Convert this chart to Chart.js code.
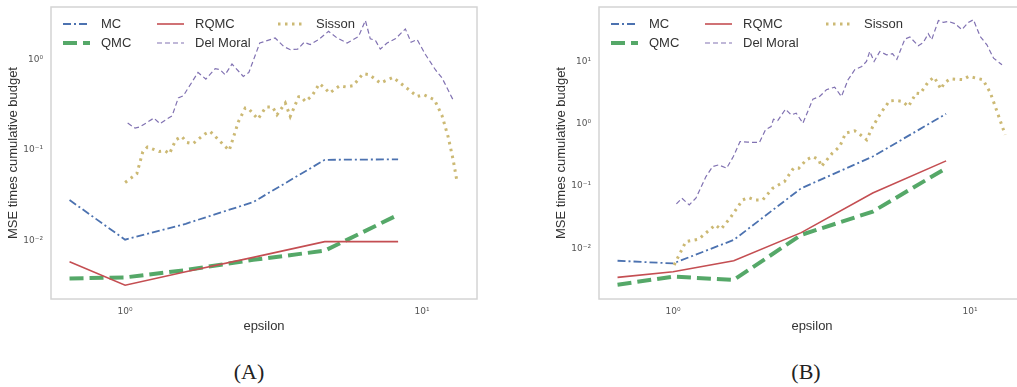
<!DOCTYPE html>
<html>
<head>
<meta charset="utf-8">
<script src="https://cdn.jsdelivr.net/npm/chart.js@4.4.0/dist/chart.umd.min.js"></script>
<style>
  body { margin: 0; background: #fff; width: 1017px; height: 387px; overflow: hidden; position: relative; }
  canvas { position: absolute; top: 0; }
  #chartA { left: 0; }
  #chartB { left: 520px; }
  .caption {
    position: absolute; top: 359px;
    font-family: "Liberation Serif", "DejaVu Serif", serif;
    font-size: 22px; color: #222;
    transform: translateX(-50%);
  }
</style>
</head>
<body>
<canvas id="chartA" width="490" height="340"></canvas>
<canvas id="chartB" width="520" height="340"></canvas>
<div class="caption" style="left:249px">(A)</div>
<div class="caption" style="left:806px">(B)</div>
<script>
// epsilon levels of the MC / QMC / RQMC runs
var epsGrid = [0.65, 1.0, 1.6, 2.7, 4.7, 8.3];

// panel (A)
var mcA = [0.028, 0.0102, 0.0153, 0.0266, 0.078, 0.079];
var qmcA = [0.0038, 0.0039, 0.0047, 0.0061, 0.0077, 0.0192];
var rqmcA = [0.0058, 0.0032, 0.0045, 0.0065, 0.0097, 0.0097];
var delMoralEpsA = [1.02, 1.08, 1.12, 1.25, 1.31, 1.44, 1.51, 1.57, 1.76, 1.87, 2.01, 2.09, 2.17, 2.29, 2.50, 2.61, 2.84, 2.96, 3.20, 3.42, 3.60,
  3.81, 4.01, 4.20, 4.48, 4.84, 5.17, 5.59, 6.11, 6.44, 6.69, 6.96, 7.23, 7.62, 8.12, 8.78, 9.18, 9.62, 10.26, 11.08, 11.67, 12.79];
var delMoralA = [0.199, 0.175, 0.180, 0.226, 0.196, 0.240, 0.377, 0.399, 0.723, 0.611, 0.795, 0.775, 0.682, 0.896, 0.653, 0.723, 1.53, 1.60, 1.74, 1.40, 1.29,
  1.31, 1.56, 1.47, 1.67, 2.06, 1.74, 1.53, 1.81, 2.72, 1.70, 1.64, 1.31, 1.53, 1.70, 2.19, 1.56, 1.67, 1.14, 0.775, 0.627, 0.345];
var sissonEpsA = [1.0, 1.095, 1.147, 1.189, 1.302, 1.364, 1.41, 1.482, 1.552, 1.614, 1.691, 1.85, 1.933, 2.09, 2.241, 2.408, 2.538, 2.604, 2.8, 2.979, 3.137, 3.245, 3.461,
  3.597, 3.839, 3.91, 4.043, 4.259, 4.506, 4.66, 4.882, 5.276, 5.556, 5.853, 6.324, 6.64, 7.236, 7.98, 8.786, 9.62, 10.13, 11.0, 11.67, 12.24, 12.72, 13.12];
var sissonA = [0.0438, 0.0547, 0.0958, 0.108, 0.0965, 0.0982, 0.091, 0.130, 0.1415, 0.1214, 0.1174, 0.150, 0.161, 0.1245, 0.099, 0.207, 0.292, 0.287, 0.2205, 0.299, 0.299, 0.246, 0.332,
  0.2355, 0.389, 0.392, 0.345, 0.399, 0.542, 0.499, 0.428, 0.515, 0.499, 0.515, 0.700, 0.682, 0.552, 0.637, 0.499, 0.392, 0.410, 0.3605, 0.240, 0.139, 0.078, 0.0438];

// panel (B)
var mcB = [0.0063, 0.0057, 0.0136, 0.092, 0.297, 1.44];
var qmcB = [0.0026, 0.0035, 0.0031, 0.0164, 0.0388, 0.193];
var rqmcB = [0.0034, 0.0042, 0.0063, 0.0178, 0.077, 0.253];
var delMoralEpsB = [1.026, 1.07, 1.133, 1.193, 1.29, 1.358, 1.422, 1.514, 1.595, 1.68, 1.782, 1.952, 2.046, 2.138, 2.177, 2.251, 2.39, 2.498, 2.597, 2.735, 2.955, 3.112, 3.281, 3.499, 3.687, 3.881,
  4.088, 4.316, 4.477, 4.592, 4.75, 4.966, 5.232, 5.482, 5.667, 6.03, 6.27, 6.69, 6.954, 7.23, 7.42, 7.82, 8.13, 8.45, 8.9, 9.38, 9.86, 10.26, 10.81, 11.39, 11.99, 12.8];
var delMoralB = [0.0515, 0.0637, 0.0497, 0.0637, 0.1416, 0.205, 0.218, 0.193, 0.297, 0.518, 0.506, 0.499, 0.798, 0.902, 1.183, 1.124, 1.714, 1.387, 1.479, 1.021, 2.481, 2.735, 3.508, 3.873, 2.735, 5.08,
  7.36, 8.32, 10.0, 14.5, 10.0, 14.5, 12.8, 13.3, 10.8, 22.9, 24.7, 17.9, 20.2, 27.9, 22.3, 45.6, 42.4, 44.0, 40.4, 32.4, 42.4, 46.8, 25.2, 18.5, 11.3, 8.85];
var sissonEpsB = [1.008, 1.104, 1.218, 1.387, 1.449, 1.554, 1.714, 1.796, 1.878, 2.003, 2.165, 2.371, 2.543, 2.651, 2.808, 2.955, 3.097, 3.155, 3.436, 3.638, 3.811, 4.088,
  4.27, 4.484, 4.70, 5.00, 5.35, 5.634, 5.933, 6.198, 6.58, 6.788, 7.242, 7.568, 7.974, 8.18, 8.57, 9.46, 9.885, 11.04, 11.68, 12.37, 13.12];
var sissonB = [0.00539, 0.01277, 0.01396, 0.0237, 0.0202, 0.0303, 0.0598, 0.0652, 0.0598, 0.0598, 0.0923, 0.1178, 0.1932, 0.1932, 0.263, 0.297, 0.263, 0.205, 0.337, 0.4305, 0.706, 0.769,
  0.664, 0.551, 0.902, 1.479, 2.333, 2.36, 2.275, 1.892, 3.10, 3.03, 4.77, 5.61, 3.60, 4.50, 5.27, 5.10, 5.76, 5.10, 3.19, 1.486, 0.664];

// tick positions
var xTicks = [1, 10];
var yTicksA = [0.01, 0.1, 1];
var yTicksB = [0.01, 0.1, 1, 10];

var SANS = '"Liberation Sans", Arial, sans-serif';
var SUP = { "0": "\u2070", "1": "\u00b9", "2": "\u00b2", "-": "\u207b" };

function powLabel(v) {
  var e = String(Math.round(Math.log10(v)));
  return "10" + e.split("").map(function (c) { return SUP[c]; }).join("");
}

function pairs(xs, ys) {
  return xs.map(function (x, i) { return { x: x, y: ys[i] }; });
}

// frame around the plot area
var framePlugin = {
  id: "frame",
  afterDatasetsDraw: function (chart) {
    var a = chart.chartArea, ctx = chart.ctx;
    ctx.save();
    ctx.strokeStyle = "#d4d4d4";
    ctx.lineWidth = 1.5;
    ctx.strokeRect(a.left, a.top, a.right - a.left, a.bottom - a.top);
    ctx.restore();
  },
};

// legend in three columns, filled column by column
var legendPlugin = {
  id: "columnLegend",
  afterDraw: function (chart) {
    var ctx = chart.ctx, a = chart.chartArea;
    var colX = [12, 106, 227];
    var rowY = [17, 36];
    ctx.save();
    ctx.font = "13px " + SANS;
    ctx.textBaseline = "middle";
    chart.data.datasets.forEach(function (ds, i) {
      var x = a.left + colX[Math.floor(i / 2)];
      var y = a.top + rowY[i % 2];
      ctx.strokeStyle = ds.borderColor;
      ctx.lineWidth = ds.borderWidth;
      ctx.setLineDash(ds.borderDash || []);
      ctx.beginPath();
      ctx.moveTo(x, y);
      ctx.lineTo(x + 27, y);
      ctx.stroke();
      ctx.setLineDash([]);
      ctx.fillStyle = "#333";
      ctx.fillText(ds.label, x + 38, y);
    });
    ctx.restore();
  },
};

// fixed axis box sizes, no extra room for half tick labels at the ends
function fixBox(size) {
  return function (s) {
    if (s.isHorizontal()) s.height = size; else s.width = size;
    s.paddingTop = 0;
    s.paddingBottom = 0;
    s.paddingLeft = 0;
    s.paddingRight = 0;
  };
}

function makeChart(id, d, yMin, yMax, yTicks, padLeft, padRight) {
  var datasets = [
    { label: "MC", data: pairs(epsGrid, d.mc), borderColor: "#4C72B0", borderWidth: 1.8, borderDash: [8, 3, 2, 3], order: 5 },
    { label: "QMC", data: pairs(epsGrid, d.qmc), borderColor: "#55A868", borderWidth: 4, borderDash: [14, 6], order: 4 },
    { label: "RQMC", data: pairs(epsGrid, d.rqmc), borderColor: "#C44E52", borderWidth: 1.6, order: 3 },
    { label: "Del Moral", data: pairs(d.dmEps, d.dm), borderColor: "#8172B2", borderWidth: 1.2, borderDash: [5, 3], order: 2 },
    { label: "Sisson", data: pairs(d.sEps, d.s), borderColor: "#CCB974", borderWidth: 3, borderDash: [2.5, 4.5], order: 1 },
  ];
  datasets.forEach(function (ds) {
    ds.pointRadius = 0;
    ds.fill = false;
    ds.tension = 0;
  });

  return new Chart(document.getElementById(id), {
    type: "line",
    data: { datasets: datasets },
    options: {
      responsive: false,
      animation: false,
      devicePixelRatio: 1,
      layout: { padding: { left: padLeft, top: 7, right: padRight, bottom: 0 } },
      plugins: { legend: { display: false }, tooltip: { enabled: false } },
      scales: {
        x: {
          type: "logarithmic",
          min: 0.563,
          max: 15.3,
          grid: { display: false, drawTicks: false },
          border: { display: false },
          afterBuildTicks: function (s) { s.ticks = xTicks.map(function (v) { return { value: v }; }); },
          afterFit: fixBox(41),
          ticks: {
            callback: function (v) { return powLabel(v); },
            font: { size: 9, family: '"DejaVu Sans", sans-serif' },
            color: "#555",
            padding: 7,
            maxRotation: 0,
            autoSkip: false,
          },
          title: {
            display: true,
            text: "epsilon",
            font: { size: 13, family: SANS },
            color: "#333",
            padding: { top: 0, bottom: 6 },
          },
        },
        y: {
          type: "logarithmic",
          min: yMin,
          max: yMax,
          grid: { display: false, drawTicks: false },
          border: { display: false },
          afterBuildTicks: function (s) { s.ticks = yTicks.map(function (v) { return { value: v }; }); },
          afterFit: fixBox(51),
          ticks: {
            callback: function (v) { return powLabel(v); },
            font: { size: 9, family: '"DejaVu Sans", sans-serif' },
            color: "#555",
            padding: 8,
            autoSkip: false,
          },
          title: {
            display: true,
            text: "MSE times cumulative budget",
            font: { size: 13, family: SANS },
            color: "#333",
            padding: { top: 6, bottom: 0 },
          },
        },
      },
    },
    plugins: [framePlugin, legendPlugin],
  });
}

makeChart("chartA", { mc: mcA, qmc: qmcA, rqmc: rqmcA, dmEps: delMoralEpsA, dm: delMoralA, sEps: sissonEpsA, s: sissonA },
  0.00225, 3.83, yTicksA, 0, 13);
makeChart("chartB", { mc: mcB, qmc: qmcB, rqmc: rqmcB, dmEps: delMoralEpsB, dm: delMoralB, sEps: sissonEpsB, s: sissonB },
  0.00153, 75, yTicksB, 28, 15);
</script>
</body>
</html>
